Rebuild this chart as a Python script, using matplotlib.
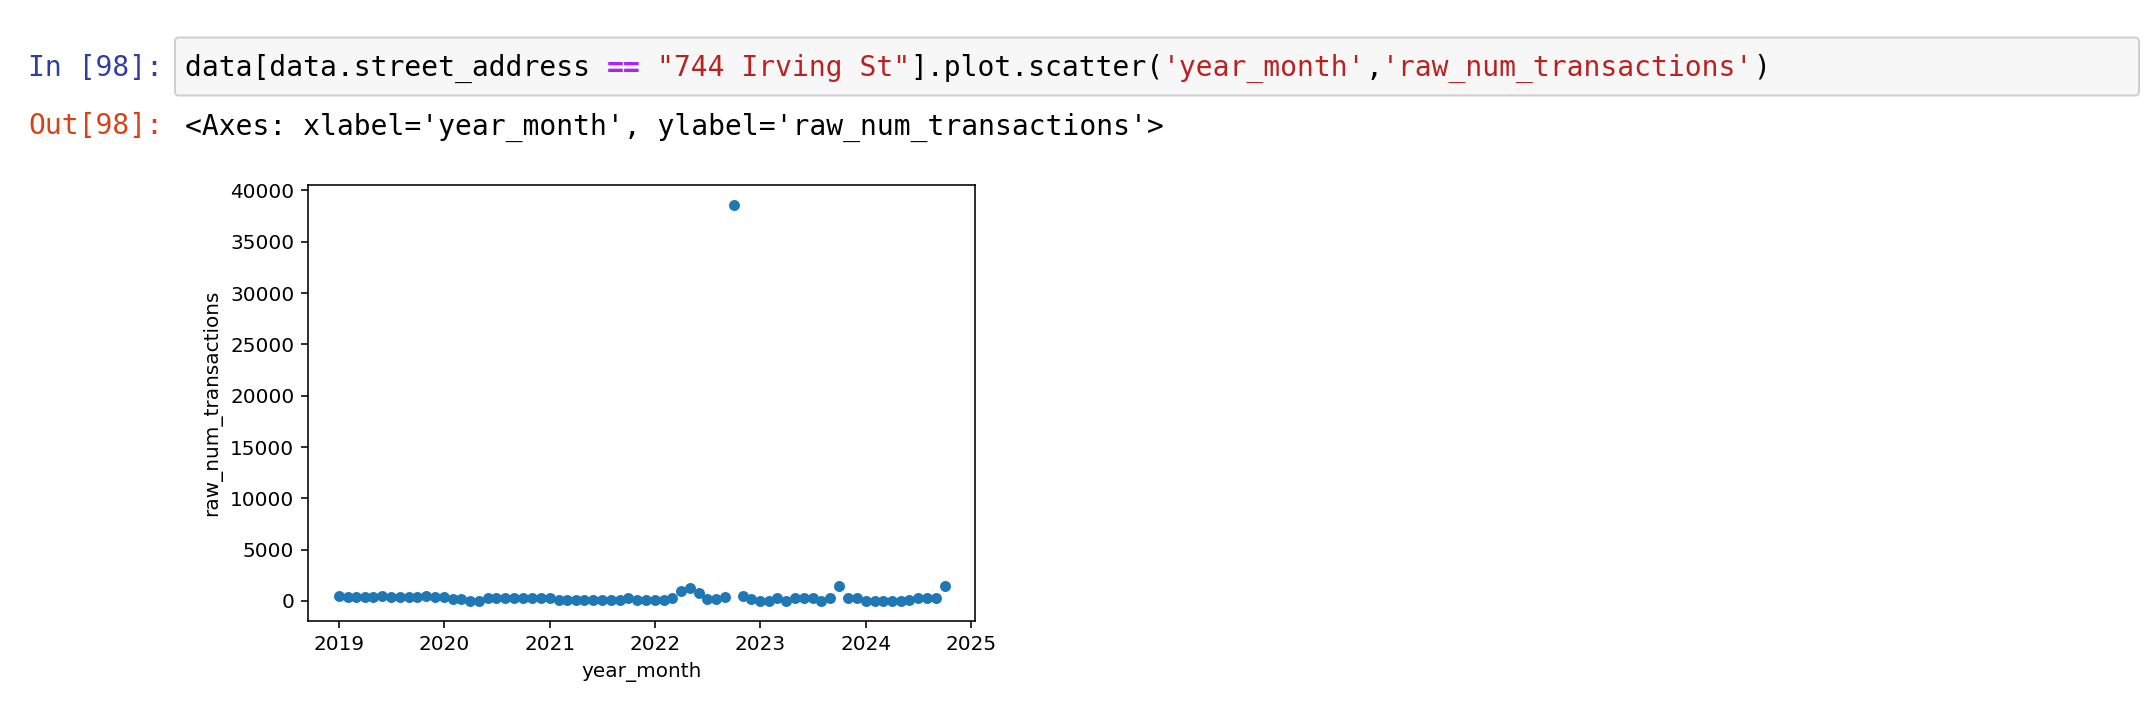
import matplotlib
matplotlib.use("Agg")
import matplotlib.pyplot as plt
import pandas as pd
from matplotlib.patches import FancyBboxPatch
from matplotlib.transforms import IdentityTransform

# monthly data for 744 Irving St, 2019-01 .. 2024-10
year_month = pd.date_range("2019-01-01", "2024-10-01", freq="MS")
raw_num_transactions = [
    440, 430, 430, 420, 430, 440, 430, 430, 420, 430, 440, 430,   # 2019
    420, 220, 200, 20, 30, 280, 290, 300, 320, 320, 310, 320,     # 2020
    330, 90, 70, 80, 60, 70, 60, 70, 110, 330, 60, 50,            # 2021
    60, 90, 280, 1000, 1230, 800, 160, 180, 420, 38600, 480, 220, # 2022
    20, 30, 340, 20, 260, 310, 250, 30, 250, 1480, 300, 250,      # 2023
    20, 30, 10, 20, 10, 90, 300, 300, 300, 1480,                  # 2024
]

code_parts = [
    ("data[data.street_address ", "black", "normal"),
    ("==", "#AA22FF", "bold"),
    (" ", "black", "normal"),
    ('"744 Irving St"', "#BA2121", "normal"),
    ("].plot.scatter(", "black", "normal"),
    ("'year_month'", "#BA2121", "normal"),
    (",", "black", "normal"),
    ("'raw_num_transactions'", "#BA2121", "normal"),
    (")", "black", "normal"),
]
out_text = "<Axes: xlabel='year_month', ylabel='raw_num_transactions'>"

W, H, DPI = 2154, 704, 144
fig = plt.figure(figsize=(W / DPI, H / DPI), dpi=DPI)
fig.patch.set_facecolor("white")

mono = "DejaVu Sans Mono"
fs = 14
char_w = 1233 / 2048 * fs * DPI / 72  # advance of one mono char in px

# input cell box (pixel coords, origin bottom-left)
box_l, box_r, box_t, box_b = 175, 2139, 37.5, 95.5
cell = FancyBboxPatch((box_l, H - box_b), box_r - box_l, box_b - box_t,
                      boxstyle="round,pad=0,rounding_size=4",
                      facecolor="#F7F7F7", edgecolor="#CFCFCF", linewidth=1,
                      transform=IdentityTransform())
fig.patches.append(cell)

fig.text(28 / W, 1 - 75.5 / H, "In [98]:", color="#303F9F",
         family=mono, fontsize=fs, va="baseline")
fig.text(28 / W, 1 - 134.5 / H, "Out[98]:", color="#D84315",
         family=mono, fontsize=fs, va="baseline")

n = 0
for txt, col, wt in code_parts:
    fig.text((185 + n * char_w) / W, 1 - 75.5 / H, txt, color=col,
             fontweight=wt, family=mono, fontsize=fs, va="baseline")
    n += len(txt)

fig.text(185 / W, 1 - 134.5 / H, out_text, color="black",
         family=mono, fontsize=fs, va="baseline")

# the scatter output
ax_l, ax_r, ax_t, ax_b = 308.3, 975, 185, 620.7
ax = fig.add_axes([ax_l / W, 1 - ax_b / H, (ax_r - ax_l) / W, (ax_b - ax_t) / H])
ax.scatter(year_month, raw_num_transactions, s=20, color="C0")
ax.set_xlabel("year_month")
ax.set_ylabel("raw_num_transactions")

fig.savefig("out.png", dpi=DPI)
